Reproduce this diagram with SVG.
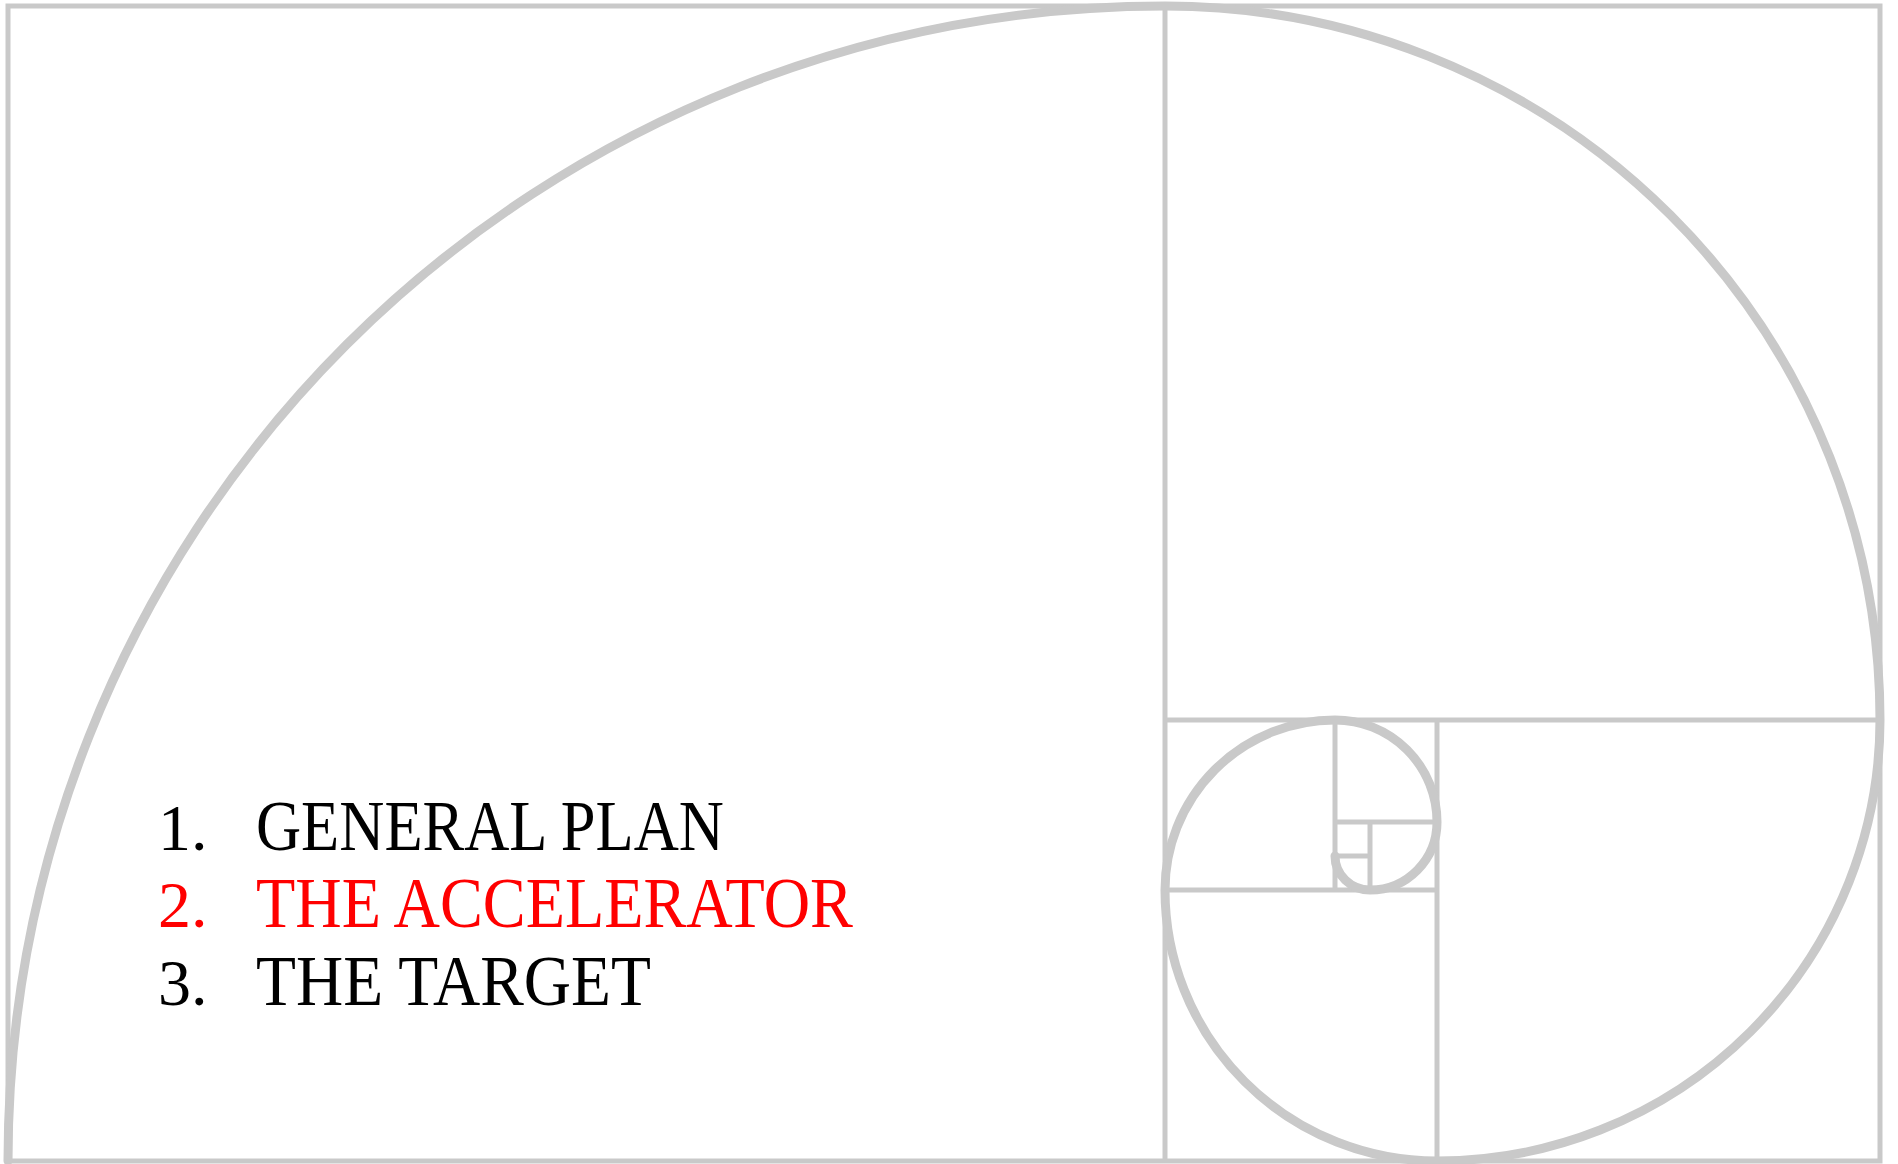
<svg xmlns="http://www.w3.org/2000/svg" width="1898" height="1164" viewBox="0 0 1898 1164">
<style>
.frame{fill:none;stroke:#c9c9c9;stroke-width:5}
.grid{fill:none;stroke:#c9c9c9;stroke-width:5}
.spiral{fill:none;stroke:#c9c9c9;stroke-width:9;stroke-linecap:round}
.item{font-family:"Liberation Serif","Times New Roman",serif;font-size:71px}
.num{font-family:"Liberation Serif","Times New Roman",serif;font-size:66px}
</style>
<rect width="1898" height="1164" fill="#ffffff"/>
<g id="frame">
<rect class="frame" x="8" y="6" width="1872" height="1155"/>
</g>
<g id="grid">
<line class="grid" x1="1165" y1="6" x2="1165" y2="1161"/>
<line class="grid" x1="1165" y1="720" x2="1880" y2="720"/>
<line class="grid" x1="1437" y1="720" x2="1437" y2="1161"/>
<line class="grid" x1="1165" y1="890" x2="1437" y2="890"/>
<line class="grid" x1="1335" y1="720" x2="1335" y2="890"/>
<line class="grid" x1="1335" y1="822" x2="1437" y2="822"/>
<line class="grid" x1="1370" y1="822" x2="1370" y2="890"/>
<line class="grid" x1="1335" y1="856" x2="1370" y2="856"/>
</g>
<g id="spiral">
<path class="spiral" d="M 8 1161 A 1157 1155 0 0 1 1165 6 A 715 714 0 0 1 1880 720 A 443 441 0 0 1 1437 1161 A 272 271 0 0 1 1165 890 A 170 170 0 0 1 1335 720 A 102 102 0 0 1 1437 822 A 67 68 0 0 1 1370 890 A 35 34 0 0 1 1335 856"/>
</g>
<g id="item1">
<text class="num" x="158" y="850" fill="#000000">1.</text>
<text class="item" x="256" y="850" fill="#000000" textLength="468" lengthAdjust="spacingAndGlyphs">GENERAL PLAN</text>
</g>
<g id="item2">
<text class="num" x="158" y="927" fill="#ff0000">2.</text>
<text class="item" x="256" y="927" fill="#ff0000" textLength="597" lengthAdjust="spacingAndGlyphs">THE ACCELERATOR</text>
</g>
<g id="item3">
<text class="num" x="158" y="1005" fill="#000000">3.</text>
<text class="item" x="256" y="1005" fill="#000000" textLength="395" lengthAdjust="spacingAndGlyphs">THE TARGET</text>
</g>
</svg>
